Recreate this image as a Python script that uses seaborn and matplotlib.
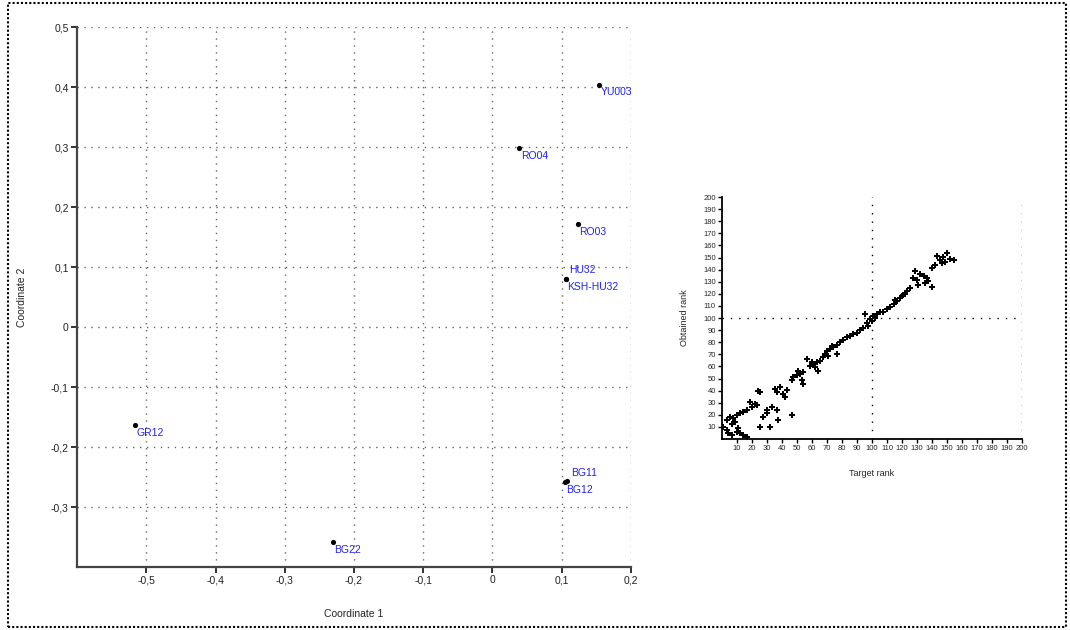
import matplotlib
matplotlib.use("Agg")
import matplotlib.pyplot as plt
from matplotlib.ticker import FuncFormatter
from matplotlib.patches import Rectangle
import seaborn as sns
import pandas as pd

# ---- main MDS configuration ----
regions = ["YU003", "RO04", "RO03", "HU32", "KSH-HU32", "GR12", "BG11", "BG12", "BG22"]
coord1 = [0.154, 0.039, 0.123, 0.106, 0.106, -0.516, 0.108, 0.105, -0.231]
coord2 = [0.404, 0.298, 0.171, 0.080, 0.080, -0.164, -0.257, -0.258, -0.358]
# label placement: (dx, dy) in points, vertical alignment
label_offsets = {"HU32": (2, 3, "bottom"), "BG11": (3, 2, "bottom")}

x_ticks = [-0.5, -0.4, -0.3, -0.2, -0.1, 0, 0.1, 0.2]
y_ticks = [-0.3, -0.2, -0.1, 0, 0.1, 0.2, 0.3, 0.4, 0.5]

# ---- Shepard plot (target vs obtained rank) ----
target_rank = [
    149.8, 152.0, 154.3, 147.6, 145.4, 143.1, 146.5, 148.7, 142.0, 139.8,
    128.7, 132.0, 134.3, 136.5, 129.8, 137.6, 139.8, 135.4, 127.6, 130.9,
    125.4, 123.1, 120.9, 118.7, 116.5, 114.3, 112.0, 115.4, 119.8, 122.0,
    109.8, 107.6, 105.4, 103.1, 100.9, 98.7, 96.5, 95.4, 97.6, 102.0,
    99.8, 94.3, 92.0, 89.8, 87.6, 85.4, 83.1, 80.9, 78.7, 76.5,
    74.3, 72.0, 69.8, 68.7, 70.9, 67.6, 73.1, 76.5, 65.4, 63.1,
    60.9, 58.7, 56.5, 59.8, 64.3, 62.0, 54.3, 52.0, 49.8, 47.6,
    46.5, 53.1, 54.3, 50.9, 43.1, 40.9, 38.7, 42.0, 35.4, 36.5,
    18.7, 22.0, 23.1, 19.8, 24.3, 25.4, 3.1, 5.4, 7.6, 9.8,
    12.0, 14.3, 16.5, 6.5, 8.7, 0.9, 3.1, 4.3, 6.5, 9.8,
    12.0, 14.3, 16.5, 10.9, 25.4, 32.0, 29.8, 29.8, 33.1, 36.5,
    37.6, 46.5, 27.6,
]
obtained_rank = [
    153.5, 148.9, 148.1, 150.8, 148.1, 151.6, 145.3, 146.7, 144.0, 141.2,
    138.5, 136.3, 134.4, 133.0, 131.7, 130.3, 125.4, 128.9, 133.0, 127.6,
    124.8, 122.1, 119.4, 116.6, 113.9, 111.2, 109.0, 115.3, 118.0, 119.9,
    107.1, 105.2, 105.2, 103.0, 101.6, 98.9, 96.2, 103.0, 93.4, 100.3,
    97.5, 92.0, 89.9, 88.0, 86.6, 85.2, 83.9, 81.7, 79.8, 77.9,
    75.7, 74.3, 73.0, 70.2, 68.9, 67.5, 77.0, 70.2, 64.8, 63.4,
    62.0, 60.7, 66.1, 63.4, 56.0, 59.3, 55.2, 53.8, 52.5, 51.1,
    48.4, 48.4, 45.6, 56.6, 40.2, 37.4, 42.9, 34.7, 41.5, 38.8,
    30.6, 29.2, 27.9, 26.5, 39.6, 38.8, 15.6, 18.3, 17.0, 19.7,
    21.1, 22.4, 23.8, 12.8, 14.2, 10.1, 7.4, 4.6, 3.3, 6.0,
    4.6, 3.3, 1.9, 8.8, 10.1, 10.1, 21.1, 23.8, 26.5, 23.8,
    15.6, 19.7, 18.3,
]
rank_ticks = list(range(10, 201, 10))

main_df = pd.DataFrame({"Coordinate 1": coord1, "Coordinate 2": coord2, "region": regions})
shep_df = pd.DataFrame({"Target rank": target_rank, "Obtained rank": obtained_rank})

sns.set_style("white")
plt.rcParams["font.family"] = ["Liberation Sans", "DejaVu Sans"]

fig = plt.figure(figsize=(10.7, 6.3), dpi=100)
ax = fig.add_axes([0.072, 0.1, 0.5177, 0.857])
ins = fig.add_axes([0.6748, 0.3032, 0.2804, 0.384])

dot_style = (0, (1.0, 4.0))

# main scatter
sns.scatterplot(data=main_df, x="Coordinate 1", y="Coordinate 2", ax=ax,
                color="black", s=14, linewidth=0, zorder=3)
ax.set_xlim(-0.6, 0.2)
ax.set_ylim(-0.4, 0.5)
ax.set_xticks(x_ticks)
ax.set_yticks(y_ticks)
fmt = FuncFormatter(lambda v, p: ("%g" % round(v, 2)).replace(".", ","))
ax.xaxis.set_major_formatter(fmt)
ax.yaxis.set_major_formatter(fmt)
ax.grid(True, color="#666666", linestyle=dot_style, linewidth=1.0)
for s in ["top", "right"]:
    ax.spines[s].set_visible(False)
for s in ["left", "bottom"]:
    ax.spines[s].set_color("#444444")
    ax.spines[s].set_linewidth(1.6)
ax.tick_params(axis="both", direction="out", length=4, width=1.3, color="#222222",
               labelsize=7.5, labelcolor="#222222", pad=2, left=True, bottom=True)
ax.set_xlabel("Coordinate 1", fontsize=7.5, color="#222222", labelpad=17)
ax.set_ylabel("Coordinate 2", fontsize=7.5, color="#222222", labelpad=17)

for name, cx, cy in zip(regions, coord1, coord2):
    dx, dy, va = label_offsets.get(name, (1, -2, "top"))
    ax.annotate(name, (cx, cy), xytext=(dx, dy), textcoords="offset points",
                ha="left", va=va, fontsize=7.5, color="#2020ff", zorder=4)

# Shepard inset
sns.scatterplot(data=shep_df, x="Target rank", y="Obtained rank", ax=ins,
                color="black", marker="P", s=24, linewidth=0, zorder=3)
ins.set_xlim(0, 200)
ins.set_ylim(0, 200)
ins.set_xticks(rank_ticks)
ins.set_yticks(rank_ticks)
ins.axvline(100, color="black", linestyle=(0, (1, 5)), linewidth=1.0, zorder=1)
ins.axvline(200, color="black", linestyle=(0, (1, 5)), linewidth=1.0, zorder=1)
ins.axhline(100, color="black", linestyle=(0, (1, 5)), linewidth=1.0, zorder=1)
for s in ["top", "right"]:
    ins.spines[s].set_visible(False)
for s in ["left", "bottom"]:
    ins.spines[s].set_color("black")
    ins.spines[s].set_linewidth(1.3)
ins.tick_params(axis="both", direction="out", length=3, width=1.0, color="black",
                labelsize=5.5, pad=1.5, left=True, bottom=True)
ins.set_xlabel("Target rank", fontsize=6.5, labelpad=12)
ins.set_ylabel("Obtained rank", fontsize=6.5, labelpad=10)

# dotted frame around the figure
fig.patches.append(Rectangle((8 / 1070, 3 / 630), 1058 / 1070, 624 / 630,
                             transform=fig.transFigure, fill=False,
                             edgecolor="black", linestyle=(0, (1, 1)), linewidth=1.5))

fig.savefig("out.png", dpi=100)
